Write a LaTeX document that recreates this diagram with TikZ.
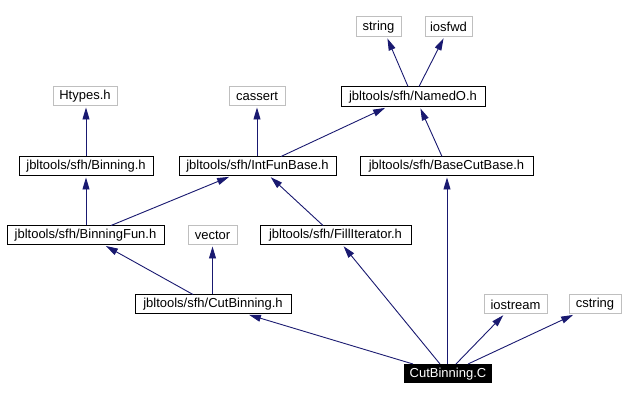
\documentclass[tikz,border=0pt]{standalone}
\usepackage{fontspec}
\setmainfont{Liberation Sans}
\usetikzlibrary{arrows.meta}
\definecolor{edgeblue}{HTML}{191970}
\definecolor{boxgray}{HTML}{BFBFBF}
\tikzset{
  base/.style={rectangle, inner sep=0pt, minimum height=19pt, font=\fontsize{13}{15}\selectfont, line width=1pt},
  blk/.style={base, draw=black},
  gry/.style={base, draw=boxgray},
  cur/.style={base, fill=black, text=white},
  dep/.style={draw=edgeblue, line width=0.9pt, -{Triangle[length=12pt,width=7pt]}, shorten >=1pt},
}
\begin{document}
\begin{tikzpicture}[x=1pt,y=-1pt]
\useasboundingbox (0,0) rectangle (625,401);
\node[gry, minimum width=64pt] (htypes) at (85,96.5) {Htypes.h};
\node[gry, minimum width=56pt] (cassert) at (257,96.5) {cassert};
\node[gry, minimum width=45pt, minimum height=20pt] (string) at (378.5,27) {string};
\node[gry, minimum width=47pt, minimum height=20pt] (iosfwd) at (448.5,27) {iosfwd};
\node[blk, minimum width=144pt, minimum height=20pt] (named) at (413,97) {jbltools/sfh/NamedO.h};
\node[blk, minimum width=134pt] (binning) at (86,166.5) {jbltools/sfh/Binning.h};
\node[blk, minimum width=157pt] (ifb) at (257.5,166.5) {jbltools/sfh/IntFunBase.h};
\node[blk, minimum width=173pt] (bcb) at (446.5,166.5) {jbltools/sfh/BaseCutBase.h};
\node[blk, minimum width=157pt] (bfun) at (85.5,235.5) {jbltools/sfh/BinningFun.h};
\node[gry, minimum width=49pt] (vector) at (212.5,235.5) {vector};
\node[blk, minimum width=151pt] (fill) at (335.5,235.5) {jbltools/sfh/FillIterator.h};
\node[blk, minimum width=156pt] (cbh) at (213,304.5) {jbltools/sfh/CutBinning.h};
\node[gry, minimum width=63pt] (iostream) at (515.5,304.5) {iostream};
\node[gry, minimum width=52pt] (cstring) at (595,304.5) {cstring};
\node[cur, minimum width=88pt] (cbc) at (448,374) {CutBinning.C};

\draw[dep] (binning.north) -- (binning.north |- htypes.south);
\draw[dep] (cassert.south |- ifb.north) -- (cassert.south);
\draw[dep] ([xshift=23.5pt]ifb.north) -- ([xshift=-27pt]named.south);
\draw[dep] ([xshift=-5pt]named.north) -- ([xshift=8.5pt]string.south);
\draw[dep] ([xshift=6pt]named.north) -- ([xshift=-4.5pt]iosfwd.south);
\draw[dep] ([xshift=-4.5pt]bcb.north) -- ([xshift=7pt]named.south);
\draw[dep] (binning.south |- bfun.north) -- (binning.south);
\draw[dep] ([xshift=25.5pt]bfun.north) -- ([xshift=-27.5pt]ifb.south);
\draw[dep] ([xshift=-12.5pt]fill.north) -- ([xshift=12.5pt]ifb.south);
\draw[dep] ([xshift=-20pt]cbh.north) -- ([xshift=19.5pt]bfun.south);
\draw[dep] (vector.south |- cbh.north) -- (vector.south);
\draw[dep] ([xshift=-35pt]cbc.north) -- ([xshift=35pt]cbh.south);
\draw[dep] ([xshift=-8pt]cbc.north) -- ([xshift=7.5pt]fill.south);
\draw[dep] ([xshift=-1pt]cbc.north) -- ([xshift=-1pt]cbc.north |- bcb.south);
\draw[dep] ([xshift=8pt]cbc.north) -- ([xshift=-11.5pt]iostream.south);
\draw[dep] ([xshift=20pt]cbc.north) -- ([xshift=-21pt]cstring.south);
\end{tikzpicture}
\end{document}
